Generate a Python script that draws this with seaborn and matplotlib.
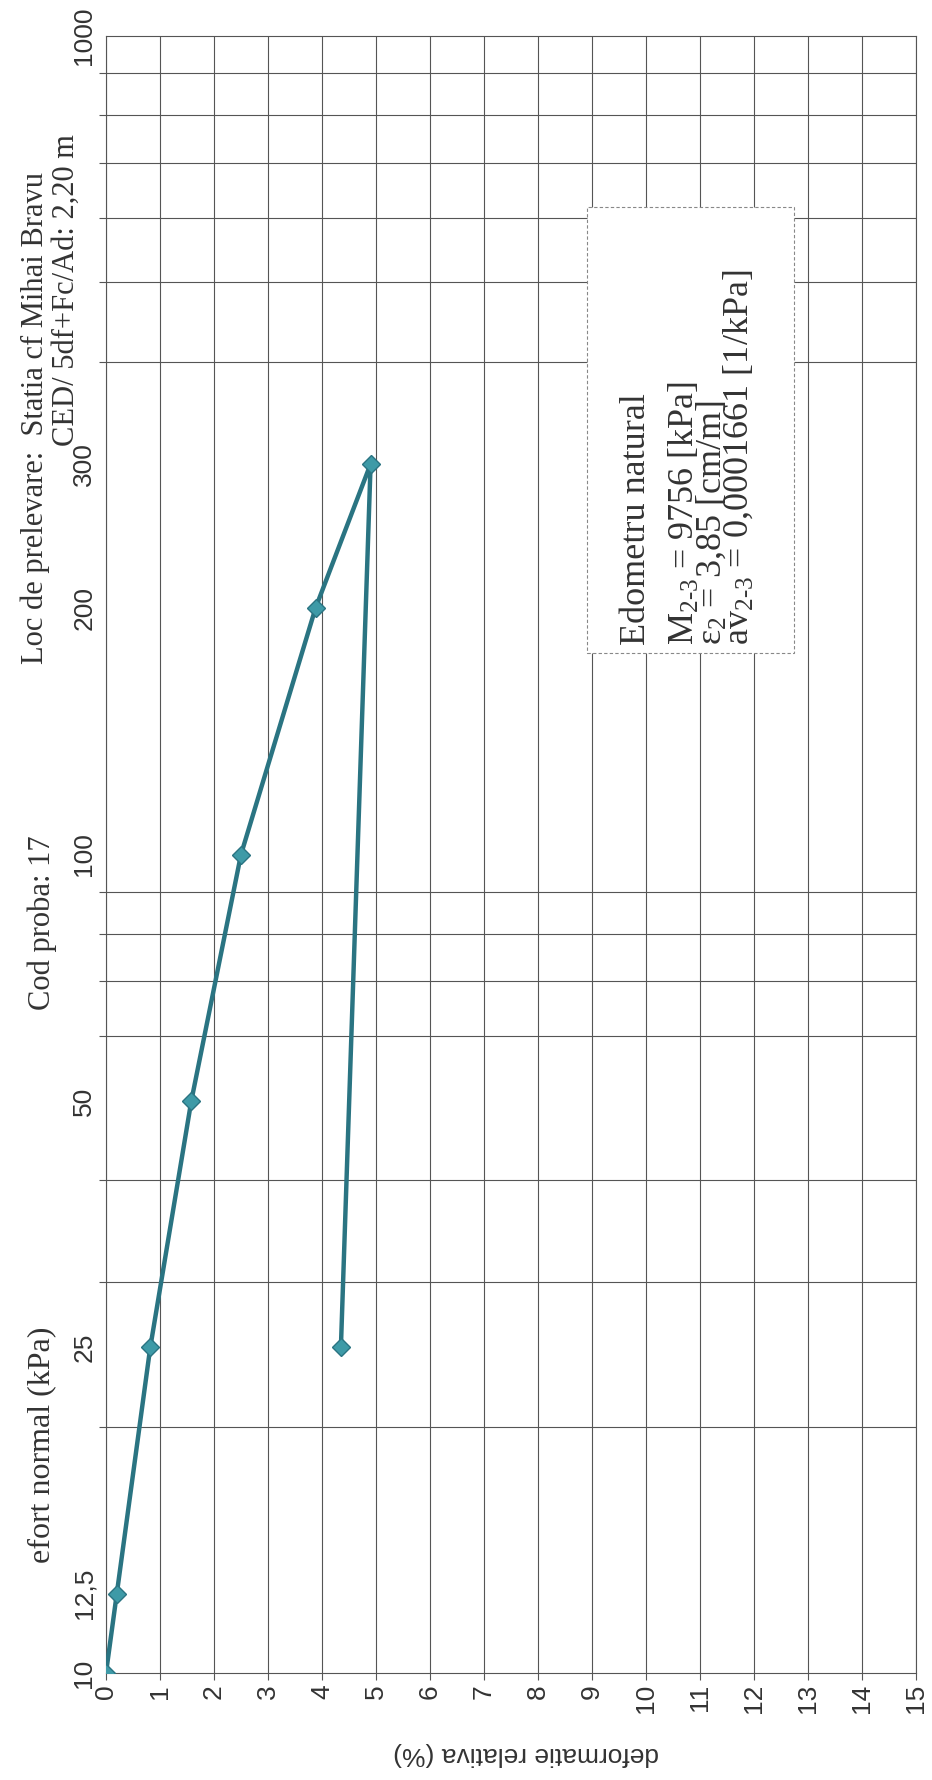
import matplotlib
matplotlib.use("Agg")
import matplotlib.pyplot as plt
import seaborn as sns
import pandas as pd
from matplotlib.ticker import FixedLocator, FixedFormatter, NullFormatter
from matplotlib.patches import Rectangle

# ---- data ----
effort_kpa = [10, 12.5, 25, 50, 100, 200, 300, 25]
deformatie = [0.0, 0.2, 0.82, 1.58, 2.5, 3.88, 4.9, 4.35]

x_ticks = list(range(0, 16))
y_label_ticks = [10, 12.5, 25, 50, 100, 200, 300, 1000]
y_label_text = ["10", "12,5", "25", "50", "100", "200", "300", "1000"]
y_grid = [10, 20, 30, 40, 50, 60, 70, 80, 90, 100,
          200, 300, 400, 500, 600, 700, 800, 900, 1000]

title_code = "Cod proba: 17"
title_loc = "Loc de prelevare:  Statia cf Mihai Bravu"
title_ced = "CED/ 5df+Fc/Ad: 2,20 m"
x_title = "deformatie relativa (%)"
y_title = "efort normal (kPa)"
box_lines = ["Edometru natural",
             r"M$_{\mathrm{2}\text{-}\mathrm{3}}$ = 9756 [kPa]",
             r"ε$_{\mathrm{2}}$ = 3,85 [cm/m]",
             r"av$_{\mathrm{2}\text{-}\mathrm{3}}$ = 0,0001661 [1/kPa]"]

sns.set_theme(style="white")
plt.rcParams["font.family"] = ["Liberation Sans", "DejaVu Sans"]
plt.rcParams["mathtext.fontset"] = "custom"
plt.rcParams["mathtext.rm"] = "Liberation Serif"
plt.rcParams["mathtext.it"] = "Liberation Serif:italic"
plt.rcParams["mathtext.bf"] = "Liberation Serif:bold"

W, H = 932, 1780
fig = plt.figure(figsize=(W / 100, H / 100), dpi=100)
fig.patch.set_facecolor("white")

ax_l, ax_r, ax_t, ax_b = 106, 916, 36, 1673
ax = fig.add_axes([ax_l / W, 1 - ax_b / H, (ax_r - ax_l) / W, (ax_b - ax_t) / H])
ax.set_facecolor("white")

df = pd.DataFrame({"deformatie": deformatie, "effort": effort_kpa})
sns.lineplot(data=df, x="deformatie", y="effort", sort=False, estimator=None,
             color="#2a7482", linewidth=3.2, marker="D", markersize=9,
             markerfacecolor="#3e9aa7", markeredgecolor="#2a7482",
             markeredgewidth=1, ax=ax, zorder=5)

ax.set_yscale("log")
ax.set_xlim(0, 15)
ax.set_ylim(10, 1000)

ax.xaxis.set_major_locator(FixedLocator(x_ticks))
ax.set_xticklabels([str(v) for v in x_ticks])
ax.yaxis.set_major_locator(FixedLocator(y_label_ticks))
ax.yaxis.set_major_formatter(FixedFormatter(y_label_text))
ax.yaxis.set_minor_locator(FixedLocator(y_grid))
ax.yaxis.set_minor_formatter(NullFormatter())

grid_kw = dict(color="#555555", linewidth=0.8)
ax.grid(False)
ax.grid(True, which="major", axis="x", **grid_kw)
ax.grid(True, which="minor", axis="y", **grid_kw)

for s in ax.spines.values():
    s.set_color("#555555")
    s.set_linewidth(0.8)

ax.tick_params(axis="x", which="major", bottom=True, length=5, width=0.8,
               color="#555555", pad=3, labelsize=19, labelcolor="#333333")
ax.tick_params(axis="y", which="major", left=True, length=0, pad=7,
               labelsize=19, labelcolor="#333333")
ax.tick_params(axis="y", which="minor", left=True, length=5, width=0.8,
               color="#555555")
for lab in ax.get_xticklabels():
    lab.set_rotation(90)
    lab.set_va("top")
    lab.set_ha("center")
for lab in ax.get_yticklabels():
    lab.set_rotation(90)
    lab.set_va("center")
    lab.set_ha("right")

ax.set_xlabel(x_title, fontsize=19, color="#333333", rotation=180, va="center")
ax.xaxis.set_label_coords((526 - ax_l) / (ax_r - ax_l), (ax_b - 1754) / (ax_b - ax_t))
ax.set_ylabel("")

# white info box
bx0, bx1, by0, by1 = 587, 794, 207, 653
ax.add_patch(Rectangle(((bx0 - ax_l) / (ax_r - ax_l), (ax_b - by1) / (ax_b - ax_t)),
                       (bx1 - bx0) / (ax_r - ax_l), (by1 - by0) / (ax_b - ax_t),
                       transform=ax.transAxes, facecolor="white",
                       edgecolor="#888888", linewidth=0.8, linestyle=(0, (3, 2)),
                       zorder=3))


def fx(px):
    return px / W


def fy(py):
    return 1 - py / H


serif = ["Liberation Serif", "DejaVu Serif"]
box_base_x = [645, 694, 721, 748]
for txt, bxl in zip(box_lines, box_base_x):
    fig.text(fx(bxl), fy(645), txt, rotation=90, rotation_mode="anchor",
             ha="left", va="baseline", fontsize=26, family=serif,
             color="#333333", zorder=6)

fig.text(fx(35), fy(172), title_loc, rotation=90, ha="center", va="top",
         fontsize=22, family=serif, color="#333333")
fig.text(fx(66), fy(134), title_ced, rotation=90, ha="center", va="top",
         fontsize=22, family=serif, color="#333333")
fig.text(fx(42), fy(923), title_code, rotation=90, ha="center", va="center",
         fontsize=22, family=serif, color="#333333")
fig.text(fx(42), fy(1445), y_title, rotation=90, ha="center", va="center",
         fontsize=23, family=serif, color="#333333")

fig.savefig("out.png", dpi=100, facecolor="white")
